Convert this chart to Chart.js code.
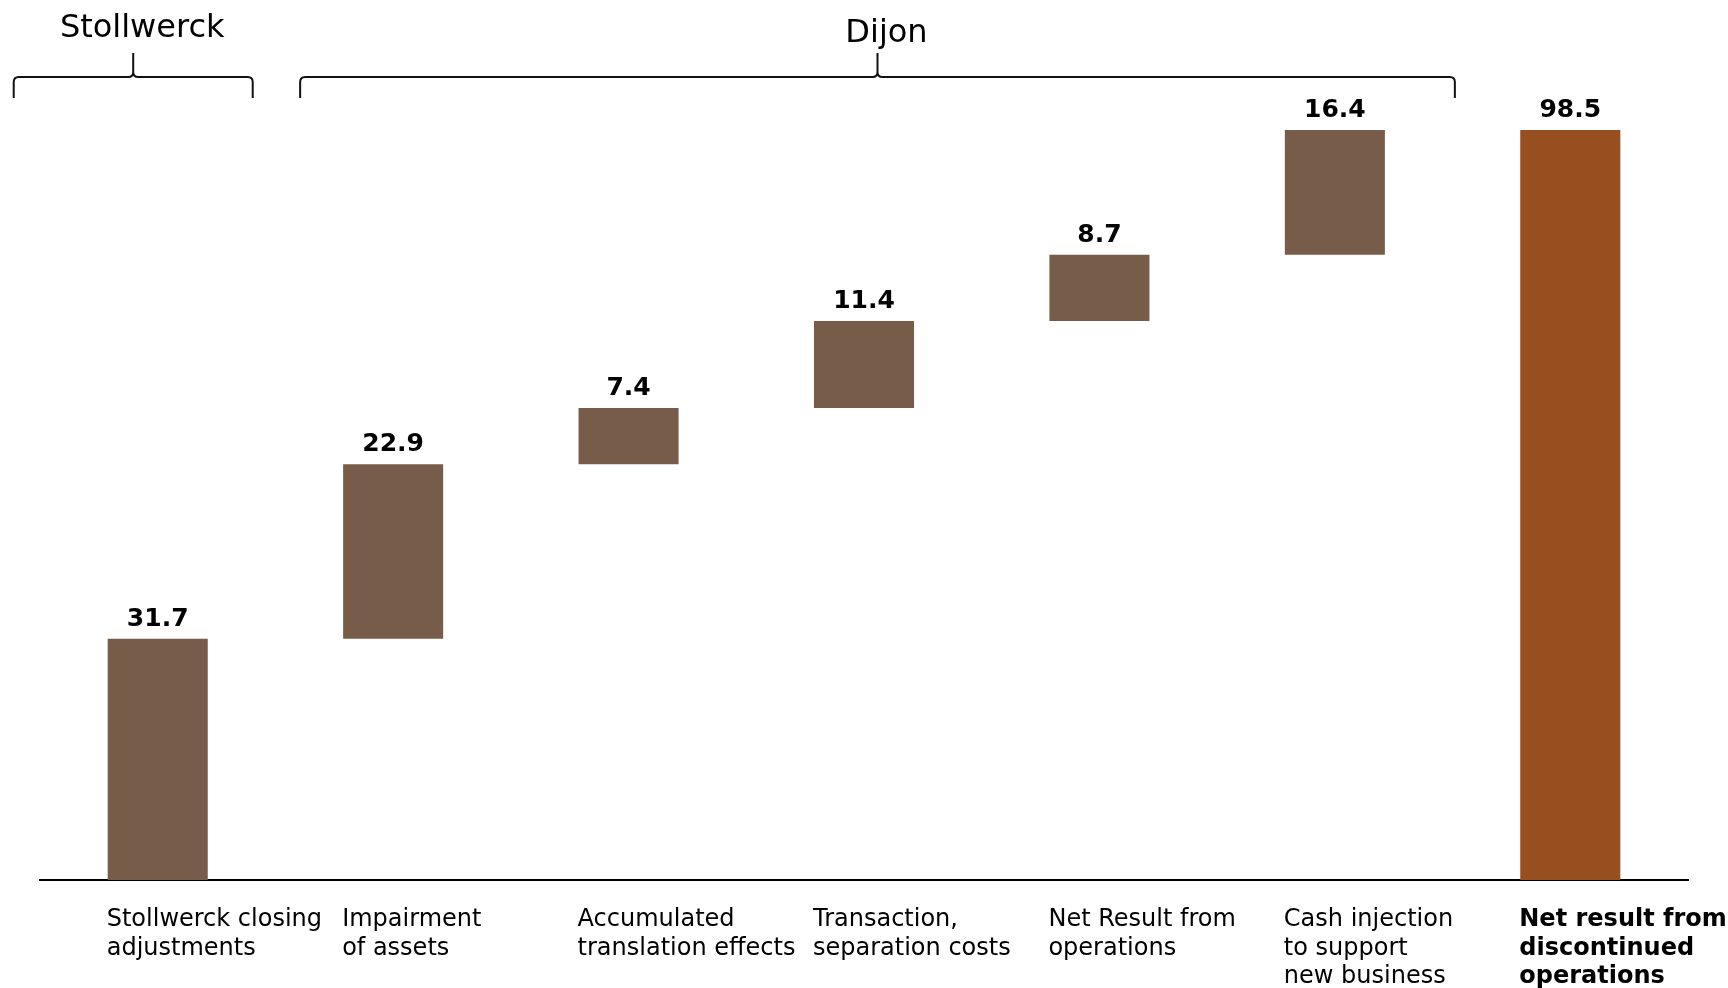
<!DOCTYPE html>
<html>
<head>
<meta charset="utf-8">
<script src="https://cdn.jsdelivr.net/npm/chart.js@4"></script>
<style>
html,body{margin:0;padding:0;background:#fff;}
#wrap{width:1728px;height:988px;position:relative;}
</style>
</head>
<body>
<div id="wrap"><canvas id="c"></canvas></div>
<script>
const categories = [
  ["Stollwerck closing", "adjustments"],
  ["Impairment", "of assets"],
  ["Accumulated", "translation effects"],
  ["Transaction,", "separation costs"],
  ["Net Result from", "operations"],
  ["Cash injection", "to support", "new business"],
  ["Net result from", "discontinued", "operations"]
];
const deltas = [31.7, 22.9, 7.4, 11.4, 8.7, 16.4];
const total = 98.5;
const groupNames = ["Stollwerck", "Dijon"];
const groupFirst = [0, 1];
const groupLast = [0, 5];

// floating bars built from the values
const floating = [];
let run = 0;
deltas.forEach(d => { floating.push([run, +(run + d).toFixed(1)]); run += d; });
floating.push([0, total]);
const shownValues = deltas.concat([total]);

const BROWN = '#785c4a';
const TOTAL = '#974f1f';
const FONT = "'DejaVu Sans', Verdana, sans-serif";

const valueLabels = {
  id: 'valueLabels',
  afterDatasetsDraw(chart) {
    const ctx = chart.ctx;
    const meta = chart.getDatasetMeta(0);
    ctx.save();
    ctx.font = "bold 25px " + FONT;
    ctx.fillStyle = '#000';
    ctx.textAlign = 'center';
    ctx.textBaseline = 'alphabetic';
    meta.data.forEach((el, i) => {
      const top = Math.min(el.y, el.base);
      ctx.fillText(shownValues[i].toFixed(1), el.x, top - 13);
    });
    ctx.restore();
  }
};

const braces = {
  id: 'braces',
  afterDraw(chart) {
    const x = chart.scales.x;
    const ctx = chart.ctx;
    const spans = [
      [x.getPixelForValue(groupFirst[0]) - 144, x.getPixelForValue(groupLast[0]) + 95],
      [x.getPixelForValue(groupFirst[1]) - 93, x.getPixelForValue(groupLast[1]) + 120]
    ];
    const yLine = 77, yEnd = 98, yTip = 53, r = 5;
    ctx.save();
    ctx.strokeStyle = '#111';
    ctx.lineWidth = 2;
    spans.forEach((s, gi) => {
      const [xl, xr] = s;
      const xm = (xl + xr) / 2;
      ctx.beginPath();
      ctx.moveTo(xl, yEnd);
      ctx.lineTo(xl, yLine + r);
      ctx.quadraticCurveTo(xl, yLine, xl + r, yLine);
      ctx.lineTo(xm - r, yLine);
      ctx.quadraticCurveTo(xm, yLine, xm, yLine - r);
      ctx.lineTo(xm, yTip);
      ctx.moveTo(xm, yLine - r);
      ctx.quadraticCurveTo(xm, yLine, xm + r, yLine);
      ctx.lineTo(xr - r, yLine);
      ctx.quadraticCurveTo(xr, yLine, xr, yLine + r);
      ctx.lineTo(xr, yEnd);
      ctx.stroke();
      ctx.fillStyle = '#000';
      ctx.font = "32px " + FONT;
      ctx.textAlign = 'center';
      ctx.textBaseline = 'alphabetic';
      ctx.fillText(groupNames[gi], xm + 9, gi === 0 ? 37 : 42);
    });
    ctx.restore();
  }
};

new Chart(document.getElementById('c'), {
  type: 'bar',
  data: {
    labels: categories,
    datasets: [{
      data: floating,
      backgroundColor: shownValues.map((v, i) => i === shownValues.length - 1 ? TOTAL : BROWN),
      borderWidth: 0,
      barPercentage: 1,
      categoryPercentage: 0.425
    }]
  },
  options: {
    responsive: true,
    maintainAspectRatio: false,
    animation: false,
    layout: { padding: { left: 40, right: 40, top: 130, bottom: 0 } },
    plugins: { legend: { display: false }, tooltip: { enabled: false } },
    scales: {
      x: {
        grid: { display: false, drawTicks: false },
        border: { display: true, color: '#000', width: 2 },
        ticks: {
          autoSkip: false,
          maxRotation: 0,
          minRotation: 0,
          align: 'start',
          labelOffset: -51,
          padding: 26,
          color: '#000',
          font: (c) => ({ family: FONT, size: 24, lineHeight: '28.5px', weight: c.index === categories.length - 1 ? 'bold' : 'normal' })
        },
        afterFit(scale) {
          scale.paddingLeft = 0;
          scale.paddingRight = 0;
          scale.height = 108;
        }
      },
      y: {
        display: false,
        min: 0,
        max: total
      }
    }
  },
  plugins: [valueLabels, braces]
});
</script>
</body>
</html>
